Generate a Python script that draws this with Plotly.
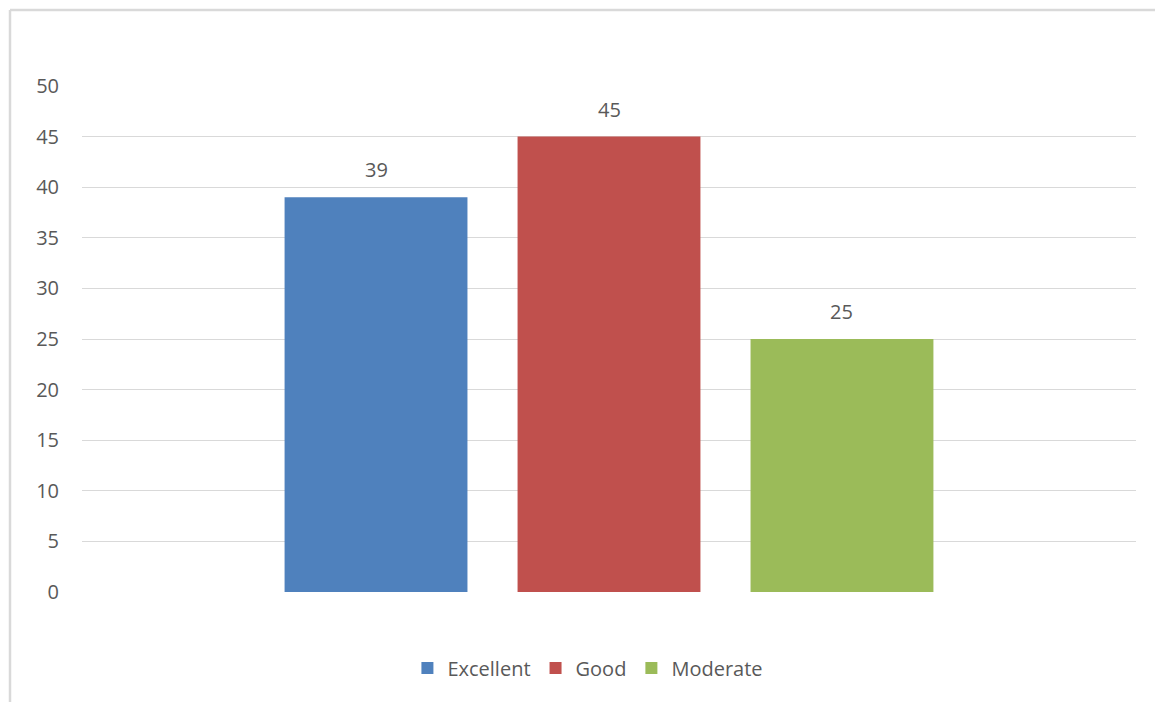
import plotly.graph_objects as go

categories = ["Excellent", "Good", "Moderate"]
values = [39, 45, 25]
colors = ["#4f81bd", "#c0504d", "#9bbb59"]
y_ticks = [0, 5, 10, 15, 20, 25, 30, 35, 40, 45, 50]

FONT = "Open Sans"
TXT = "#595959"

fig = go.Figure()
for i, (cat, val, col) in enumerate(zip(categories, values, colors)):
    fig.add_trace(go.Bar(
        x=[i], y=[val], name=cat, width=0.785,
        marker=dict(color=col, line=dict(width=0)),
        hoverinfo="name+y",
    ))
    fig.add_annotation(
        x=i, y=val, text=str(val), showarrow=False,
        yanchor="bottom", yshift=12,
        font=dict(family=FONT, size=20, color=TXT),
    )

bx0 = (10 - 82) / 1054
bx1 = (1250 - 82) / 1054
by0 = (592 - 760) / 506
by1 = (592 - 10) / 506

fig.update_layout(
    width=1163, height=702,
    margin=dict(l=74, r=35, t=78, b=118),
    paper_bgcolor="white", plot_bgcolor="white",
    barmode="overlay",
    font=dict(family=FONT, size=20, color=TXT),
    showlegend=True,
    legend=dict(
        orientation="h", x=0.48, xanchor="center",
        y=-0.15, yanchor="middle",
        font=dict(family=FONT, size=20, color=TXT),
        itemwidth=30, tracegroupgap=0,
    ),
    xaxis=dict(
        range=[-1.262, 3.262], showgrid=False, zeroline=False,
        showticklabels=False, showline=False, fixedrange=True,
    ),
    yaxis=dict(
        range=[0, 50], tickvals=y_ticks, showgrid=True,
        gridcolor="#d9d9d9", gridwidth=1, zeroline=False,
        showline=False, ticks="", ticklabelstandoff=22,
        tickfont=dict(family=FONT, size=20, color=TXT),
    ),
    shapes=[
        dict(type="line", xref="paper", yref="paper",
             x0=bx0, x1=bx1, y0=by1, y1=by1,
             line=dict(color="#d9d9d9", width=2.5), layer="below"),
        dict(type="line", xref="paper", yref="paper",
             x0=bx0, x1=bx0, y0=by0, y1=by1,
             line=dict(color="#d9d9d9", width=2.5), layer="below"),
    ],
)

fig.write_html("out.html")
